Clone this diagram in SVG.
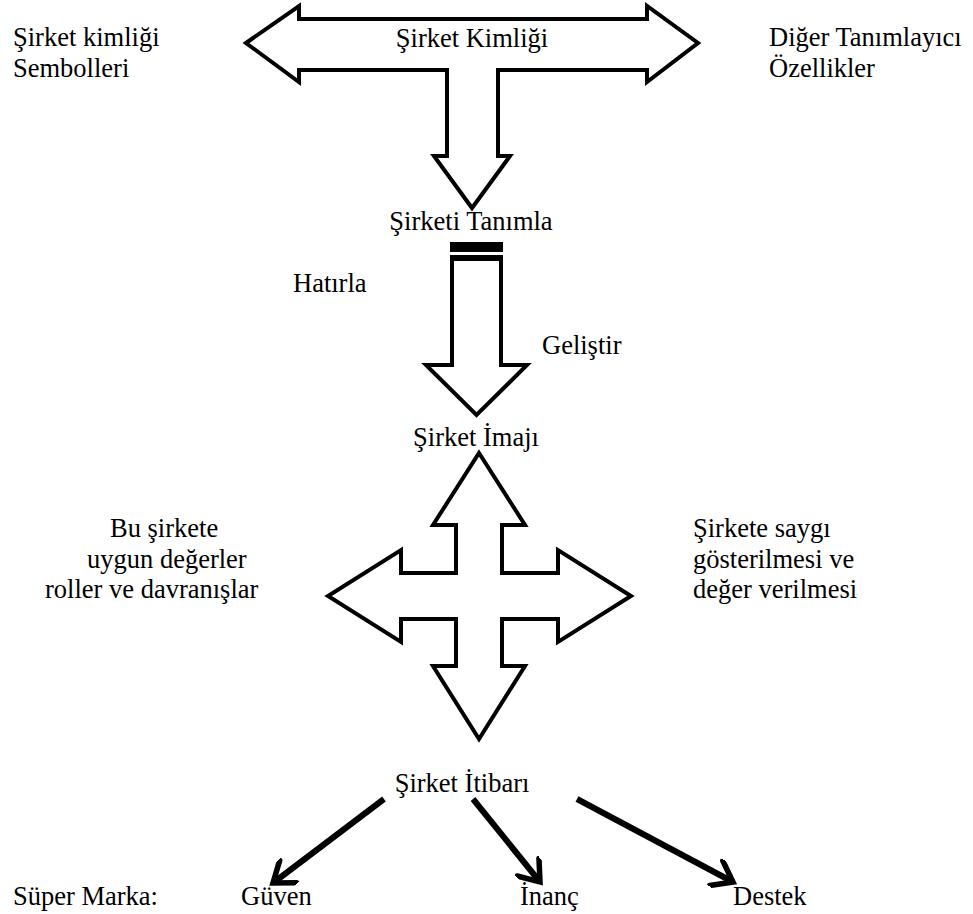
<svg xmlns="http://www.w3.org/2000/svg" width="973" height="914" viewBox="0 0 973 914">
  <style>
    .t { font-family: 'Liberation Serif', 'Times New Roman', Times, 'DejaVu Serif', serif; font-size: 26.5px; fill: #000; }
    .c { text-anchor: middle; }
    .shape { fill: #fff; stroke: #000; stroke-width: 4; stroke-linejoin: miter; }
    .conn { stroke: #000; stroke-width: 6; fill: none; stroke-linecap: butt; }
  </style>
  <defs>
    <marker id="vhead" markerUnits="userSpaceOnUse" viewBox="0 0 30 30" refX="24" refY="15" markerWidth="30" markerHeight="30" orient="auto">
      <path d="M5,1 L24,15 L5,29" fill="none" stroke="#000" stroke-width="5.5" stroke-linejoin="miter" stroke-linecap="round"/>
    </marker>
  </defs>
  <rect width="973" height="914" fill="#fff"/>

  <g id="identity-labels">
    <text class="t" x="13" y="46">Şirket kimliği</text>
    <text class="t" x="13" y="77">Sembolleri</text>
  </g>
  <g id="other-labels">
    <text class="t" x="769" y="46">Diğer Tanımlayıcı</text>
    <text class="t" x="769" y="77">Özellikler</text>
  </g>

  <g id="sirket-kimligi">
    <polygon class="shape" points="246,43 299,6 299,19 647,19 647,6 698,43 647,82 647,70 498,70 498,156 510,156 472,208 434,156 447,156 447,70 299,70 299,82"/>
    <text class="t c" x="472" y="47">Şirket Kimliği</text>
  </g>

  <g id="sirketi-tanimla">
    <text class="t c" x="471" y="230">Şirketi Tanımla</text>
    <polygon class="shape" points="452,259 452,365 426,365 476.5,415 527,365 501,365 501,259"/>
    <rect x="450" y="242" width="53" height="10" fill="#000"/>
    <rect x="450" y="255" width="53" height="6" fill="#000"/>
    <text class="t" x="293" y="292">Hatırla</text>
    <text class="t" x="542" y="354">Geliştir</text>
  </g>

  <g id="sirket-imaji">
    <text class="t c" x="476" y="446">Şirket İmajı</text>
    <polygon class="shape" points="479,453 525,525 502,525 502,573 558,573 558,550 631,596 558,642 558,619 502,619 502,666 525,666 479,739 433,666 456,666 456,619 401,619 401,642 328,596 401,550 401,573 456,573 456,525 433,525"/>
    <text class="t" x="110" y="537">Bu şirkete</text>
    <text class="t" x="87" y="568">uygun değerler</text>
    <text class="t" x="45" y="598">roller ve davranışlar</text>
    <text class="t" x="693" y="537">Şirkete saygı</text>
    <text class="t" x="693" y="568">gösterilmesi ve</text>
    <text class="t" x="693" y="598">değer verilmesi</text>
  </g>

  <g id="sirket-itibari">
    <text class="t c" x="462" y="792">Şirket İtibarı</text>
  </g>

  <g id="super-marka">
    <text class="t" x="13" y="905">Süper Marka:</text>
  </g>
  <g id="guven"><text class="t" x="241" y="905">Güven</text></g>
  <g id="inanc"><text class="t" x="520" y="905">İnanç</text></g>
  <g id="destek"><text class="t" x="733" y="905">Destek</text></g>

  <g id="connectors">
    <line class="conn" x1="384" y1="799" x2="273" y2="883" marker-end="url(#vhead)"/>
    <line class="conn" x1="473" y1="799" x2="540" y2="882" marker-end="url(#vhead)"/>
    <line class="conn" x1="577" y1="799" x2="733" y2="882" marker-end="url(#vhead)"/>
  </g>
</svg>
